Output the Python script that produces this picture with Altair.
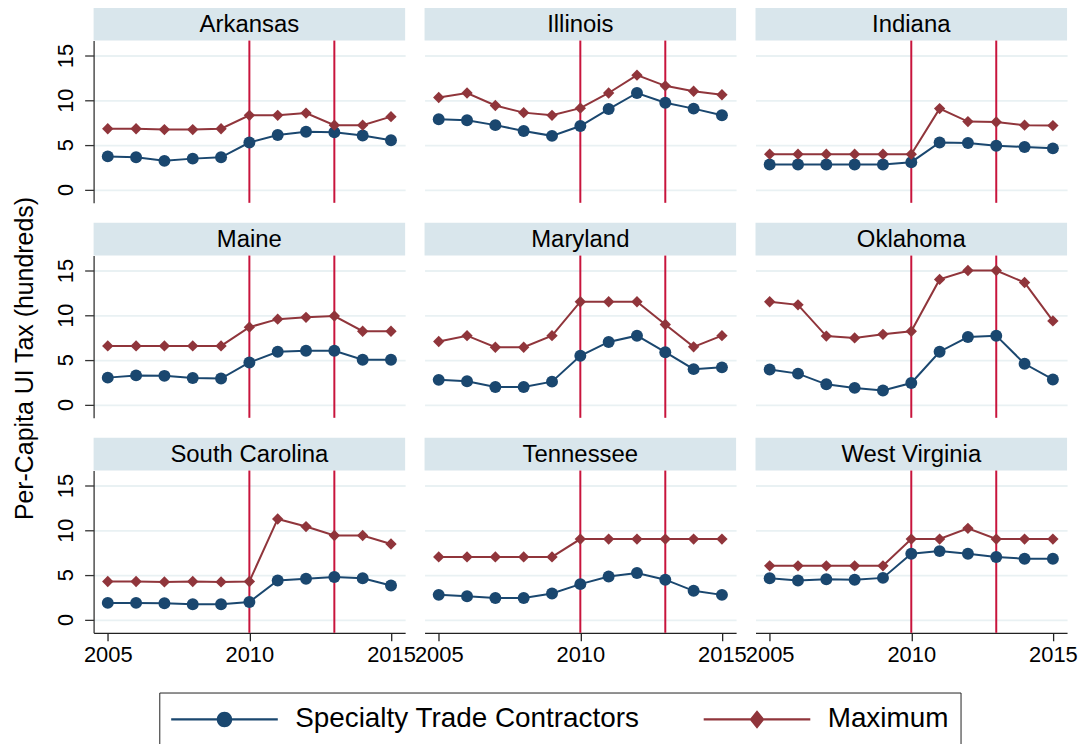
import altair as alt
import pandas as pd

FONT = "Liberation Sans"

years = [2005, 2006, 2007, 2008, 2009, 2010, 2011, 2012, 2013, 2014, 2015]
states = ["Arkansas", "Illinois", "Indiana", "Maine", "Maryland", "Oklahoma",
          "South Carolina", "Tennessee", "West Virginia"]
series_names = ["Specialty Trade Contractors", "Maximum"]
series_colors = ["#1a476f", "#90353b"]
policy_years = [2010, 2013]
y_ticks = [0, 5, 10, 15]
x_ticks = [2005, 2010, 2015]

spec_arkansas = [3.7, 3.6, 3.2, 3.45, 3.6, 5.25, 6.1, 6.45, 6.4, 6.05, 5.5]
max_arkansas = [6.8, 6.8, 6.7, 6.7, 6.8, 8.3, 8.3, 8.55, 7.2, 7.2, 8.15]
spec_illinois = [7.85, 7.75, 7.2, 6.55, 6.0, 7.1, 9.0, 10.8, 9.7, 9.05, 8.3]
max_illinois = [10.3, 10.8, 9.4, 8.6, 8.3, 9.1, 10.8, 12.8, 11.6, 11.0, 10.6]
spec_indiana = [2.8, 2.8, 2.8, 2.8, 2.8, 3.05, 5.25, 5.2, 4.9, 4.75, 4.6]
max_indiana = [3.95, 3.95, 3.95, 3.95, 3.95, 3.95, 9.05, 7.6, 7.55, 7.2, 7.15]
spec_maine = [3.0, 3.25, 3.2, 2.95, 2.9, 4.7, 5.9, 6.0, 6.0, 5.0, 5.0]
max_maine = [6.55, 6.55, 6.55, 6.55, 6.55, 8.65, 9.55, 9.75, 9.9, 8.2, 8.2]
spec_maryland = [2.75, 2.6, 1.95, 1.95, 2.55, 5.45, 7.0, 7.7, 5.85, 3.95, 4.15]
max_maryland = [7.05, 7.7, 6.4, 6.4, 7.7, 11.5, 11.5, 11.5, 8.95, 6.45, 7.7]
spec_oklahoma = [3.9, 3.45, 2.25, 1.85, 1.55, 2.4, 5.9, 7.55, 7.7, 4.55, 2.8]
max_oklahoma = [11.5, 11.15, 7.65, 7.45, 7.85, 8.2, 14.0, 15.0, 15.0, 13.65, 9.35]
spec_south_carolina = [1.85, 1.85, 1.8, 1.7, 1.7, 1.95, 4.35, 4.55, 4.75, 4.6, 3.8]
max_south_carolina = [4.25, 4.25, 4.2, 4.25, 4.2, 4.25, 11.25, 10.4, 9.4, 9.4, 8.45]
spec_tennessee = [2.75, 2.6, 2.4, 2.4, 2.9, 3.95, 4.8, 5.2, 4.45, 3.2, 2.75]
max_tennessee = [7.0, 7.0, 7.0, 7.0, 7.0, 9.0, 9.0, 9.0, 9.0, 9.0, 9.0]
spec_west_virginia = [4.6, 4.35, 4.5, 4.45, 4.65, 7.35, 7.65, 7.35, 7.0, 6.8, 6.8]
max_west_virginia = [6.0, 6.0, 6.0, 6.0, 6.0, 9.0, 9.0, 10.2, 9.0, 9.0, 9.0]

spec_all = [spec_arkansas, spec_illinois, spec_indiana, spec_maine, spec_maryland,
            spec_oklahoma, spec_south_carolina, spec_tennessee, spec_west_virginia]
max_all = [max_arkansas, max_illinois, max_indiana, max_maine, max_maryland,
           max_oklahoma, max_south_carolina, max_tennessee, max_west_virginia]

rows = []
for st, sp, mx in zip(states, spec_all, max_all):
    for yr, a, b in zip(years, sp, mx):
        rows.append({"state": st, "year": yr, "series": series_names[0], "value": a})
        rows.append({"state": st, "year": yr, "series": series_names[1], "value": b})
df = pd.DataFrame(rows)

W, H = 313, 163
STRIP = 33
STRIP_FILL = "#d9e6ec"
GRID = "#e9f1f3"
VLINE = "#c8143c"
AXIS_COL = "#333333"

xscale = alt.Scale(domain=[2004.5, 2015.5], nice=False, zero=False)
yscale = alt.Scale(domain=[-1.5, 16.67], nice=False, zero=False)
# line colours (listed in reverse order so this legend-less scale stays separate
# from the legend's scales)
stroke_scale = alt.Scale(domain=[series_names[1], series_names[0]],
                         range=[series_colors[1], series_colors[0]])

circle_path = ("M-3.57,-0.075 L3.57,-0.075 L3.57,0.075 L-3.57,0.075 Z "
               "M0.52,0 A0.52,0.52 0 1,1 -0.52,0 A0.52,0.52 0 1,1 0.52,0 Z")
diamond_path = ("M-3.57,-0.075 L3.57,-0.075 L3.57,0.075 L-3.57,0.075 Z "
                "M0,-0.62 L0.5,0 L0,0.62 L-0.5,0 Z")


def make_legend():
    return alt.Legend(
        title=None, orient="none", legendX=66, legendY=655, direction="horizontal",
        symbolSize=900, symbolOffset=38.5, labelOffset=56,
        labelFontSize=28, labelFont=FONT, labelColor="black", labelLimit=600,
        columnPadding=63, padding=12, strokeColor="#222222",
        symbolOpacity=1, symbolStrokeWidth=0,
    )


def panel(i, st):
    col, row = i % 3, i // 3
    left, bottom = col == 0, row == 2
    d = df[df.state == st]
    if left:
        yaxis = alt.Axis(values=y_ticks, title=None, labelAngle=270, labelAlign="center",
                         labelBaseline="bottom", labelFontSize=22, labelFont=FONT,
                         labelColor="black", labelPadding=7, tickSize=9, tickColor=AXIS_COL,
                         tickWidth=1.3, domainColor=AXIS_COL, domainWidth=1.3, grid=True,
                         gridColor=GRID, gridWidth=1.8)
    else:
        yaxis = alt.Axis(values=y_ticks, title=None, labels=False, ticks=False, domain=False,
                         grid=True, gridColor=GRID, gridWidth=1.8)
    if bottom:
        xaxis = alt.Axis(values=x_ticks, format="d", title=None, grid=False, labelFontSize=22,
                         labelFont=FONT, labelColor="black", labelFlush=False,
                         labelOverlap=False, tickSize=8, tickColor="#222222", tickWidth=1.3,
                         domainColor="#222222", domainWidth=1.3, labelPadding=4)
    else:
        xaxis = None
    x = alt.X("year:Q", scale=xscale, axis=xaxis)
    y = alt.Y("value:Q", scale=yscale, axis=yaxis)

    strip_df = pd.DataFrame({"state": [st]})
    strip = alt.Chart(strip_df).mark_rect(color=STRIP_FILL).encode(
        x=alt.value(0), x2=alt.value(W), y=alt.value(-STRIP), y2=alt.value(0))
    strip_text = alt.Chart(strip_df).mark_text(
        font=FONT, fontSize=24, color="black", align="center", baseline="middle"
    ).encode(x=alt.value(W / 2), y=alt.value(-STRIP / 2 + 1), text="state:N")

    rules = alt.Chart(pd.DataFrame({"year": policy_years})).mark_rule(
        color=VLINE, strokeWidth=2).encode(x=x)

    base = alt.Chart(d)
    lines = base.mark_line(strokeWidth=2).encode(
        x=x, y=y, stroke=alt.Stroke("series:N", scale=stroke_scale, legend=None))
    pts_a = base.transform_filter(alt.datum.series == series_names[0]).mark_point(
        shape="circle", filled=True, size=144, opacity=1, color=series_colors[0]
    ).encode(x=x, y=y)
    pts_b = base.transform_filter(alt.datum.series == series_names[1]).mark_point(
        shape="diamond", filled=True, size=130, opacity=1, color=series_colors[1]
    ).encode(x=x, y=y)

    layers = [strip, strip_text, rules, lines, pts_a, pts_b]
    return alt.layer(*layers).properties(width=W, height=H)


panels = [panel(i, st) for i, st in enumerate(states)]

# legend source: carries only the two series names (no drawn rows)
legend_src = alt.Chart(pd.DataFrame({"series": series_names})).transform_filter(
    "false"
).mark_point(filled=True, opacity=1).encode(
    fill=alt.Fill("series:N", scale=alt.Scale(domain=series_names, range=series_colors),
                  legend=make_legend()),
    shape=alt.Shape("series:N",
                    scale=alt.Scale(domain=series_names, range=[circle_path, diamond_path]),
                    legend=make_legend()),
)
panels[0] = alt.layer(panels[0], legend_src)

chart = alt.concat(*panels, columns=3, spacing=alt.RowColnumber(row=53, column=19.5),
                   bounds="flush").properties(
    title=alt.TitleParams(text="Per-Capita UI Tax (hundreds)", orient="left", anchor="middle",
                          fontSize=25, font=FONT, fontWeight="normal", color="black", offset=16,
                          dx=18),
    padding={"left": 5, "top": -3, "right": 0, "bottom": 0},
).configure(font=FONT).configure_view(stroke="transparent")

chart.save("out.html", embed_options={"renderer": "svg", "actions": False})
